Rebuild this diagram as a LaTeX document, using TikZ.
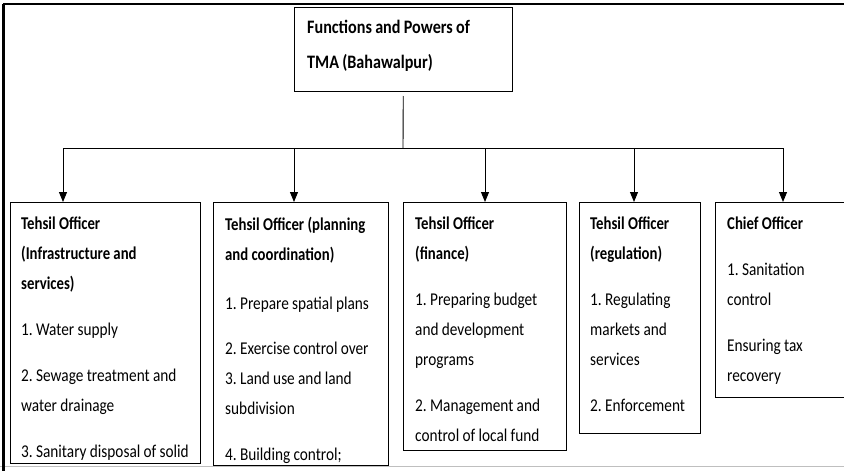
\documentclass[tikz,border=0pt]{standalone}
\usepackage{fontspec}
\setmainfont{Carlito}[FakeStretch=0.85]
\newfontfamily\headfont{Carlito}[FakeStretch=0.82]
\newcommand{\hd}{\headfont\bfseries}
\newcommand{\tightsp}{\spaceskip=3.3pt plus 1pt\relax\xspaceskip=3.3pt plus 1pt\relax}
\usepackage{tikz}
\usetikzlibrary{arrows.meta,positioning,calc}

\begin{document}
\begin{tikzpicture}
[x=1pt, y=-1pt,
 box/.style={draw, line width=1pt, anchor=north west, inner sep=0pt},
 txt/.style={align=left, inner sep=0pt, font=\fontsize{18}{30}\selectfont,
             execute at begin node=\tightsp},
 link/.style={line width=0.9pt, -{Triangle[width=8pt,length=10pt]}}]
    \clip (0,0) rectangle (844,471);
    \path[draw, lightgray, line width=1pt] (0,466) -- (844,466);
    \path[draw, line width=1.5pt] (4,471) -- (4,4) -- (844,4);
    \path[draw, line width=2.5pt] (3,4) -- (3,471);

    \node[box, minimum width=218pt, minimum height=84pt] (T) at (294,7) {};
    \node[txt, text width=200pt, font=\fontsize{19}{35}\selectfont\bfseries,
          below right=13pt and 13pt of T.north west] (Tt)
        {Functions and Powers of\\TMA (Bahawalpur)};

    \node[box, minimum width=190pt, minimum height=261pt] (I) at (10,202) {};
    \node[box, minimum width=175pt, minimum height=263pt] (P) at (213,202) {};
    \node[box, minimum width=163pt, minimum height=248pt] (F) at (403,202) {};
    \node[box, minimum width=121pt, minimum height=231pt] (R) at (579,202) {};
    \node[box, minimum width=160pt, minimum height=195pt] (C) at (715,202) {};

    \node[txt, text width=185pt, below right=15pt and 11pt of I.north west] (It)
        {{\hd Tehsil Officer\\(Infrastructure and\\services)}\\[16pt]
         1. Water supply\\[16pt]
         2. Sewage treatment and\\water drainage\\[16pt]
         3. Sanitary disposal of solid};
    \node[txt, text width=170pt, below right=15pt and 12pt of P.north west] (Pt)
        {{\hd Tehsil Officer (planning\\and coordination)}\\[19pt]
         1. Prepare spatial plans\\[15pt]
         2. Exercise control over\\3. Land use and land\\subdivision\\[16pt]
         4. Building control;};
    \node[txt, text width=160pt, below right=15pt and 12pt of F.north west] (Ft)
        {{\hd Tehsil Officer\\(finance)}\\[16pt]
         1. Preparing budget\\and development\\programs\\[16pt]
         2. Management and\\control of local fund};
    \node[txt, text width=115pt, below right=15pt and 11pt of R.north west] (Rt)
        {{\hd Tehsil Officer\\(regulation)}\\[16pt]
         1. Regulating\\markets and\\services\\[16pt]
         2. Enforcement};
    \node[txt, text width=120pt, below right=15pt and 12pt of C.north west] (Ct)
        {{\hd Chief Officer}\\[16pt]
         1. Sanitation\\control\\[16pt]
         Ensuring tax\\recovery};

    \coordinate (bus) at (403,148);
    \coordinate (d1) at (63,148);
    \coordinate (d2) at (294,148);
    \coordinate (d3) at (485,148);
    \coordinate (d4) at (634,148);
    \coordinate (d5) at (783,148);
    \path[draw, line width=0.9pt, shorten <=4pt] (T) -- (bus);
    \path[draw, line width=0.9pt] (d1) -- (d5);
    \foreach \d/\b in {d1/I, d2/P, d3/F, d4/R, d5/C}
        \path[draw, link] (\d) -- (\d |- \b.north);
\end{tikzpicture}
\end{document}
